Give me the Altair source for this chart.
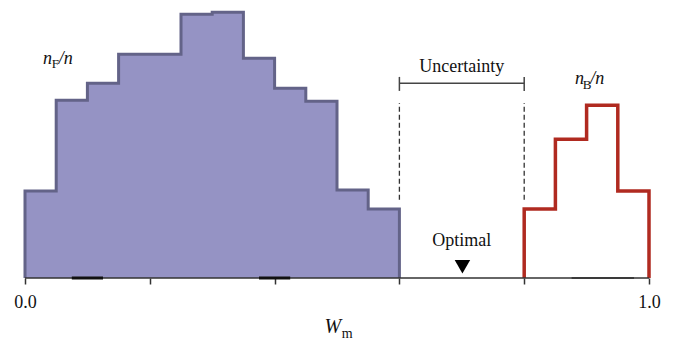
import altair as alt
import pandas as pd

# Histogram bin edges (left edges) and heights of the two distributions
f_left = [0.00, 0.05, 0.10, 0.15, 0.20, 0.25, 0.30, 0.35, 0.40, 0.45, 0.50, 0.55]
f_height = [0.087, 0.178, 0.195, 0.224, 0.224, 0.264, 0.266, 0.220, 0.190, 0.177, 0.088, 0.069]
f_right_edge = 0.60

b_left = [0.80, 0.85, 0.90, 0.95]
b_height = [0.069, 0.139, 0.173, 0.087]
b_right_edge = 1.00

# Thick marker segments lying on the baseline
seg_start = [0.075, 0.375, 0.876]
seg_end = [0.125, 0.425, 0.976]
seg_color = ["#111111", "#111111", "#3a3a3a"]
seg_width = [3, 3, 2]

# Uncertainty interval and optimal position
unc_lo, unc_hi = 0.6, 0.8
optimal_x = 0.701

axis_ticks = [0.0, 0.2, 0.4, 0.6, 0.8, 1.0]

FONT = "Liberation Serif"
PURPLE_FILL = "#9593c4"
PURPLE_LINE = "#636388"
RED = "#b02a20"
Y_MAX = 0.2783


def outline(lefts, heights, right):
    xs = [lefts[0]] + list(lefts) + [right, right]
    ys = [0.0] + list(heights) + [heights[-1], 0.0]
    return pd.DataFrame({"x": xs, "y": ys, "o": range(len(xs))})


f_df = outline(f_left, f_height, f_right_edge)
b_df = outline(b_left, b_height, b_right_edge)
f_fill_df = pd.DataFrame({"x": list(f_left) + [f_right_edge], "y": list(f_height) + [f_height[-1]]})

x_scale = alt.Scale(domain=[0, 1], nice=False, zero=False)
y_scale = alt.Scale(domain=[0, Y_MAX], nice=False, zero=False)

x_axis = alt.Axis(
    values=axis_ticks,
    labelExpr="datum.value == 0 || datum.value == 1 ? format(datum.value, '.1f') : ''",
    labelFont=FONT, labelFontSize=18, labelColor="#111111",
    labelFlush=False, labelPadding=9,
    domain=False, grid=False,
    ticks=True, tickSize=6, tickWidth=1.5, tickColor="#333333",
    title=None,
)

X = alt.X("x:Q", scale=x_scale, axis=x_axis)
Y = alt.Y("y:Q", scale=y_scale, axis=None, stack=None)

f_area = alt.Chart(f_fill_df).mark_area(
    interpolate="step-after", color=PURPLE_FILL, opacity=1
).encode(x=X, y=Y)

f_line = alt.Chart(f_df).mark_line(
    interpolate="step-after", color=PURPLE_LINE, strokeWidth=3, strokeJoin="miter"
).encode(x=X, y=Y, order="o:Q")

b_line = alt.Chart(b_df).mark_line(
    interpolate="step-after", color=RED, strokeWidth=3.5, strokeJoin="miter"
).encode(x=X, y=Y, order="o:Q")

baseline = alt.Chart(pd.DataFrame({"x": [0.0], "x2": [1.0], "y": [0.0]})).mark_rule(
    color="#333333", strokeWidth=1.5
).encode(x=X, x2="x2:Q", y=Y)

seg_df = pd.DataFrame({"x": seg_start, "x2": seg_end, "y": [0.0] * 3,
                       "c": seg_color, "w": seg_width})
segments = alt.Chart(seg_df).mark_rule().encode(
    x=X, x2="x2:Q", y=Y,
    color=alt.Color("c:N", scale=None),
    strokeWidth=alt.StrokeWidth("w:Q", scale=None),
)

# Dashed boundaries of the uncertainty interval
dash_df = pd.DataFrame({"x": [unc_lo, unc_hi], "y": [0.0783, 0.0783], "y2": [0.1753, 0.1753]})
dashes = alt.Chart(dash_df).mark_rule(
    color="#333333", strokeWidth=1.3, strokeDash=[5, 3]
).encode(x=X, y=Y, y2="y2:Q")

# Bracket above the interval
bracket_h = alt.Chart(pd.DataFrame({"x": [unc_lo], "x2": [unc_hi], "y": [0.195]})).mark_rule(
    color="#444444", strokeWidth=1.5
).encode(x=X, x2="x2:Q", y=Y)
bracket_caps = alt.Chart(
    pd.DataFrame({"x": [unc_lo, unc_hi], "y": [0.1873, 0.1873], "y2": [0.2013, 0.2013]})
).mark_rule(color="#444444", strokeWidth=1.5).encode(x=X, y=Y, y2="y2:Q")

marker = alt.Chart(pd.DataFrame({"x": [optimal_x], "y": [0.0113]})).mark_point(
    shape="triangle-down", filled=True, color="#000000", size=240, opacity=1
).encode(x=X, y=Y)


def label(text, x, y, size=18, style="normal", align="left"):
    return alt.Chart(pd.DataFrame({"x": [x], "y": [y], "t": [text]})).mark_text(
        font=FONT, fontSize=size, fontStyle=style, align=align,
        baseline="alphabetic", color="#111111", clip=False,
    ).encode(x=X, y=Y, text="t:N")


texts = [
    label("Uncertainty", 0.7, 0.2066, align="center"),
    label("Optimal", 0.7, 0.0323, align="center"),
    # n_F / n
    label("n", 0.0288, 0.2143, style="italic"),
    label("F", 0.0430, 0.2100, size=13),
    label("/n", 0.0540, 0.2143, style="italic"),
    # n_B / n
    label("n", 0.8814, 0.1943, style="italic"),
    label("B", 0.8940, 0.1890, size=13),
    label("/n", 0.9058, 0.1943, style="italic"),
    # axis title W_m
    label("W", 0.4935, -0.0550, size=20, style="italic", align="center"),
    label("m", 0.5165, -0.0597, size=14, align="center"),
]

chart = alt.layer(
    f_area, f_line, b_line, baseline, segments, dashes, bracket_h, bracket_caps, marker, *texts
).properties(
    width=624, height=278,
    autosize=alt.AutoSizeParams(type="none"),
    padding={"left": 25, "top": 0, "right": 26, "bottom": 63},
).configure_view(stroke=None)

chart.save("out.html", embed_options={"renderer": "svg", "actions": False})
